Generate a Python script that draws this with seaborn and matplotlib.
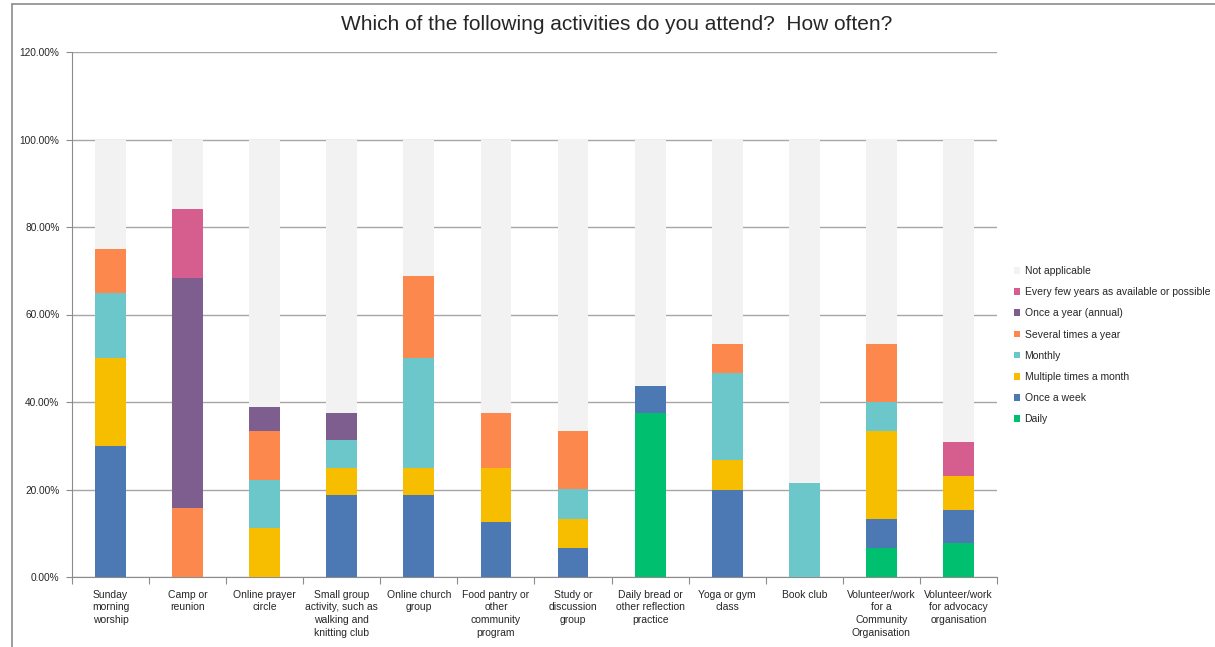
import matplotlib
matplotlib.use("Agg")
import matplotlib.pyplot as plt
import matplotlib.patches as mpatches
import matplotlib.lines as mlines
import seaborn as sns
import pandas as pd
import numpy as np

categories = [
    "Sunday\nmorning\nworship",
    "Camp or\nreunion",
    "Online prayer\ncircle",
    "Small group\nactivity, such as\nwalking and\nknitting club",
    "Online church\ngroup",
    "Food pantry or\nother\ncommunity\nprogram",
    "Study or\ndiscussion\ngroup",
    "Daily bread or\nother reflection\npractice",
    "Yoga or gym\nclass",
    "Book club",
    "Volunteer/work\nfor a\nCommunity\nOrganisation",
    "Volunteer/work\nfor advocacy\norganisation",
]

daily       = [0, 0, 0, 0, 0, 0, 0, 37.5, 0, 0, 6.67, 7.69]
once_week   = [30, 0, 0, 18.75, 18.75, 12.5, 6.67, 6.25, 20, 0, 6.67, 7.69]
multi_month = [20, 0, 11.11, 6.25, 6.25, 12.5, 6.67, 0, 6.67, 0, 20, 7.69]
monthly     = [15, 0, 11.11, 6.25, 25, 0, 6.67, 0, 20, 21.43, 6.67, 0]
several     = [10, 15.79, 11.11, 0, 18.75, 12.5, 13.33, 0, 6.67, 0, 13.33, 0]
once_year   = [0, 52.63, 5.56, 6.25, 0, 0, 0, 0, 0, 0, 0, 0]
few_years   = [0, 15.79, 0, 0, 0, 0, 0, 0, 0, 0, 0, 7.69]
not_app     = [25, 15.79, 61.11, 62.5, 31.25, 62.5, 66.67, 56.25, 46.67, 78.57, 46.67, 69.23]

series_names = ["Daily", "Once a week", "Multiple times a month", "Monthly",
                "Several times a year", "Once a year (annual)",
                "Every few years as available or possible", "Not applicable"]
series_vals = [daily, once_week, multi_month, monthly, several, once_year, few_years, not_app]
colors = ["#00BF6F", "#4C79B3", "#F7BE00", "#6CC7CB", "#FD884D", "#7E5E8F", "#D65E8E", "#F2F2F2"]

yticks = [0, 20, 40, 60, 80, 100, 120]
ytick_labels = ["0.00%", "20.00%", "40.00%", "60.00%", "80.00%", "100.00%", "120.00%"]

sns.set_theme(style="white")
plt.rcParams['font.family'] = ['Liberation Sans', 'DejaVu Sans']

fig = plt.figure(figsize=(12.15, 6.47), dpi=100)
ax = fig.add_axes([72/1215, 1-577/647, (997-72)/1215, (577-52)/647])

df = pd.DataFrame(dict(zip(series_names, series_vals)))
df["cat"] = categories
cum = df[series_names].cumsum(axis=1)

# draw from top-most cumulative down so each lower layer overlays
for name, col in reversed(list(zip(series_names, colors))):
    d = pd.DataFrame({"cat": categories, "val": cum[name].values})
    sns.barplot(data=d, x="cat", y="val", color=col, width=0.4,
                saturation=1, ax=ax, zorder=3, linewidth=0, errorbar=None)

ax.set_ylim(0, 120)
ax.set_xlim(-0.5, len(categories) - 0.5)
ax.set_yticks(yticks)
ax.set_yticklabels(ytick_labels, fontsize=7.3)
ax.set_xticks(range(len(categories)))
ax.set_xticklabels(categories, fontsize=7.5, linespacing=1.35)
ax.set_xticks(np.arange(-0.5, len(categories), 1.0), minor=True)
ax.tick_params(axis="x", which="major", length=0, pad=9)
ax.tick_params(axis="x", which="minor", length=5, color="#8C8C8C", width=0.8, bottom=True)
ax.tick_params(axis="y", length=4, color="#8C8C8C", width=0.8, left=True, pad=5)
ax.set_xlabel("")
ax.set_ylabel("")
ax.yaxis.grid(True, color="#A6A6A6", linewidth=1.0, zorder=0)
ax.set_axisbelow(True)
for s in ["top", "right"]:
    ax.spines[s].set_visible(False)
for s in ["left", "bottom"]:
    ax.spines[s].set_color("#8C8C8C")
    ax.spines[s].set_linewidth(0.8)

fig.text(617/1215, 1-25/647, "Which of the following activities do you attend?  How often?",
         ha="center", va="center", fontsize=15)

handles = [mpatches.Patch(facecolor=c, edgecolor="none", label=n)
           for n, c in zip(series_names, colors)][::-1]
leg = fig.legend(handles=handles, loc="upper left", bbox_to_anchor=(1010/1215, 1-262/647),
                 frameon=False, fontsize=7.5, handlelength=0.6, handleheight=0.6,
                 handletextpad=0.4, labelspacing=1.07, borderaxespad=0)

# outer screenshot border lines (top and left)
fig.add_artist(mlines.Line2D([12/1215, 1], [1-4/647, 1-4/647], color="#8C8C8C", linewidth=1.2))
fig.add_artist(mlines.Line2D([12/1215, 12/1215], [0, 1-4/647], color="#8C8C8C", linewidth=1.2))

fig.savefig("out.png", dpi=100)
